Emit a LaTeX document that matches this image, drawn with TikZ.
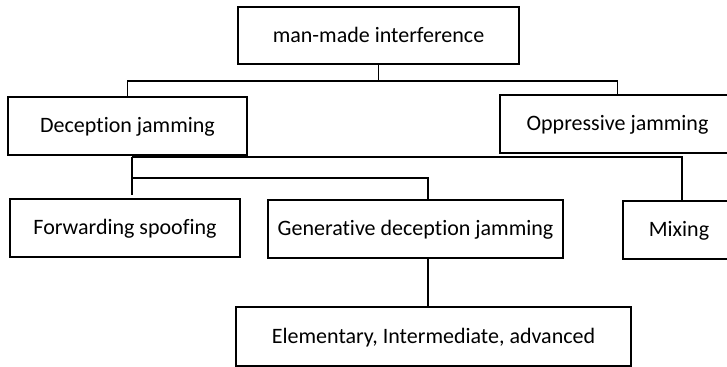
\documentclass[tikz,border=0pt]{standalone}
\usepackage{fontspec}
\setmainfont{Carlito}[Ligatures=NoCommon]
\usepackage{tikz}
\tikzset{box/.style={draw,line width=1.2pt,inner sep=0pt,minimum height=29pt,text height=8pt,text depth=1pt,font=\fontsize{11}{13}\selectfont},
  link/.style={line width=0.9pt}}

\begin{document}
\begin{tikzpicture}[x=0.5pt,y=-0.5pt]
    \useasboundingbox (0,0) rectangle (727,367);
    \clip (0,0) rectangle (727,367);
    % boxes
    \node[box,minimum width=140.5pt,minimum height=28.5pt] (top) at (378.5,35.5) {man-made interference};
    \node[box,minimum width=119.5pt] (dec) at (127.5,126) {Deception jamming};
    \node[box,minimum width=117.5pt] (opp) at (617.5,124) {Oppressive jamming};
    \node[box,minimum width=115pt] (fwd) at (125,228) {Forwarding spoofing};
    \node[box,minimum width=147.5pt] (gen) at (415.5,229) {Generative deception jamming};
    \node[box,minimum width=56pt] (mix) at (679,230) {Mixing};
    \node[box,minimum width=197.5pt,minimum height=29.5pt] (elem) at (433.5,336.5) {Elementary, Intermediate, advanced};
    % first level
    \draw[link] (top.south) -- ++(0,16) coordinate (j1);
    \draw[link] (dec.north) |- (j1) -| (opp.north);
    % second level
    \coordinate (j2) at (132,157);
    \coordinate (j4) at (132,178);
    \draw[link] (j2) -| ([xshift=1.5pt]mix.north);
    \draw[link] (j2) -- ++(0,38) coordinate (j3);
    \draw[link] (j4) -| ([xshift=6.25pt]gen.north);
    \draw[link] ([xshift=6.25pt]gen.south) -- ([xshift=6.25pt]gen.south |- elem.north);
\end{tikzpicture}
\end{document}
